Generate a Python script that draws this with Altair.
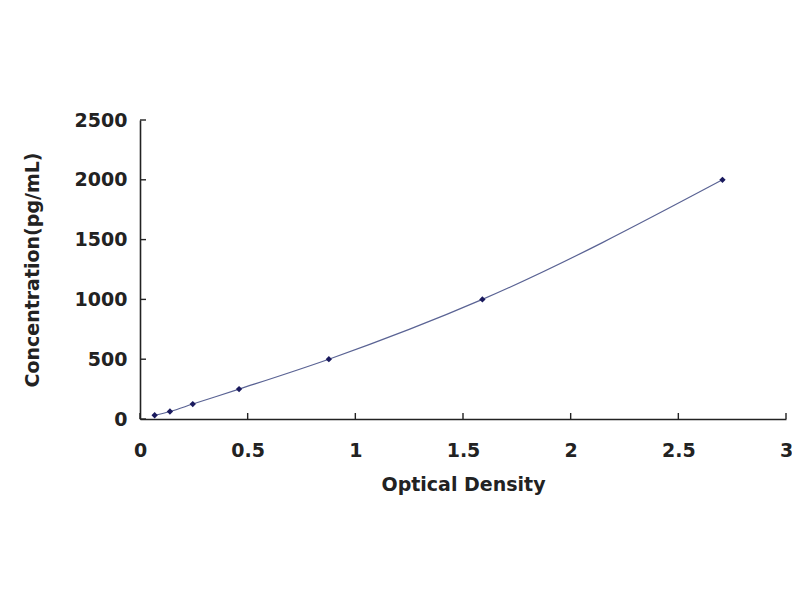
import altair as alt
import pandas as pd

od = [0.068, 0.139, 0.245, 0.46, 0.877, 1.59, 2.705]
conc = [31.25, 62.5, 125, 250, 500, 1000, 2000]
x_ticks = [0, 0.5, 1, 1.5, 2, 2.5, 3]
y_ticks = [0, 500, 1000, 1500, 2000, 2500]

df = pd.DataFrame({"od": od, "conc": conc})
W, H = 646, 299
FONT = "DejaVu Sans"
FS = 19

xs = alt.Scale(domain=[0, 3], nice=False)
ys = alt.Scale(domain=[0, 2500], nice=False)

xaxis = alt.Axis(values=x_ticks, ticks=False, grid=False, domainColor="#222",
                 domainWidth=1.6, labelFont=FONT, labelFontSize=FS, labelFontWeight="bold",
                 labelColor="#222", labelPadding=22, title="Optical Density", format="~g",
                 titleFont=FONT, titleFontSize=FS, titleFontWeight="bold",
                 titleColor="#222", titlePadding=15, labelFlush=False)
yaxis = alt.Axis(values=y_ticks, ticks=False, grid=False, domainColor="#222",
                 domainWidth=1.6, labelFont=FONT, labelFontSize=FS, labelFontWeight="bold",
                 labelColor="#222", labelPadding=13, title="Concentration(pg/mL)", format="d",
                 titleFont=FONT, titleFontSize=FS, titleFontWeight="bold",
                 titleColor="#222", titlePadding=32, labelFlush=False)

base = alt.Chart(df)
line = base.mark_line(interpolate="monotone", color="#5a6394", strokeWidth=1.2).encode(
    x=alt.X("od:Q", scale=xs, axis=xaxis),
    y=alt.Y("conc:Q", scale=ys, axis=yaxis),
)
pts = base.mark_point(shape="diamond", filled=True, size=40, color="#1a1a5e", opacity=1).encode(
    x=alt.X("od:Q", scale=xs, axis=xaxis),
    y=alt.Y("conc:Q", scale=ys, axis=yaxis),
)
xt = alt.Chart(pd.DataFrame({"t": x_ticks})).mark_rule(color="#222", strokeWidth=1.4).encode(
    x=alt.X("t:Q", scale=xs, axis=xaxis), y=alt.value(H), y2=alt.value(H - 6))
yt = alt.Chart(pd.DataFrame({"t": y_ticks})).mark_rule(color="#222", strokeWidth=1.4).encode(
    y=alt.Y("t:Q", scale=ys, axis=yaxis), x=alt.value(0), x2=alt.value(6))

chart = alt.layer(line, pts, xt, yt).properties(
    width=W, height=H,
    background="white",
    autosize=alt.AutoSizeParams(type="none"),
    padding={"left": 132, "top": 112, "right": 6, "bottom": 150},
).configure_view(stroke=None)

chart.save("out.html", embed_options={"renderer": "svg", "actions": False})
